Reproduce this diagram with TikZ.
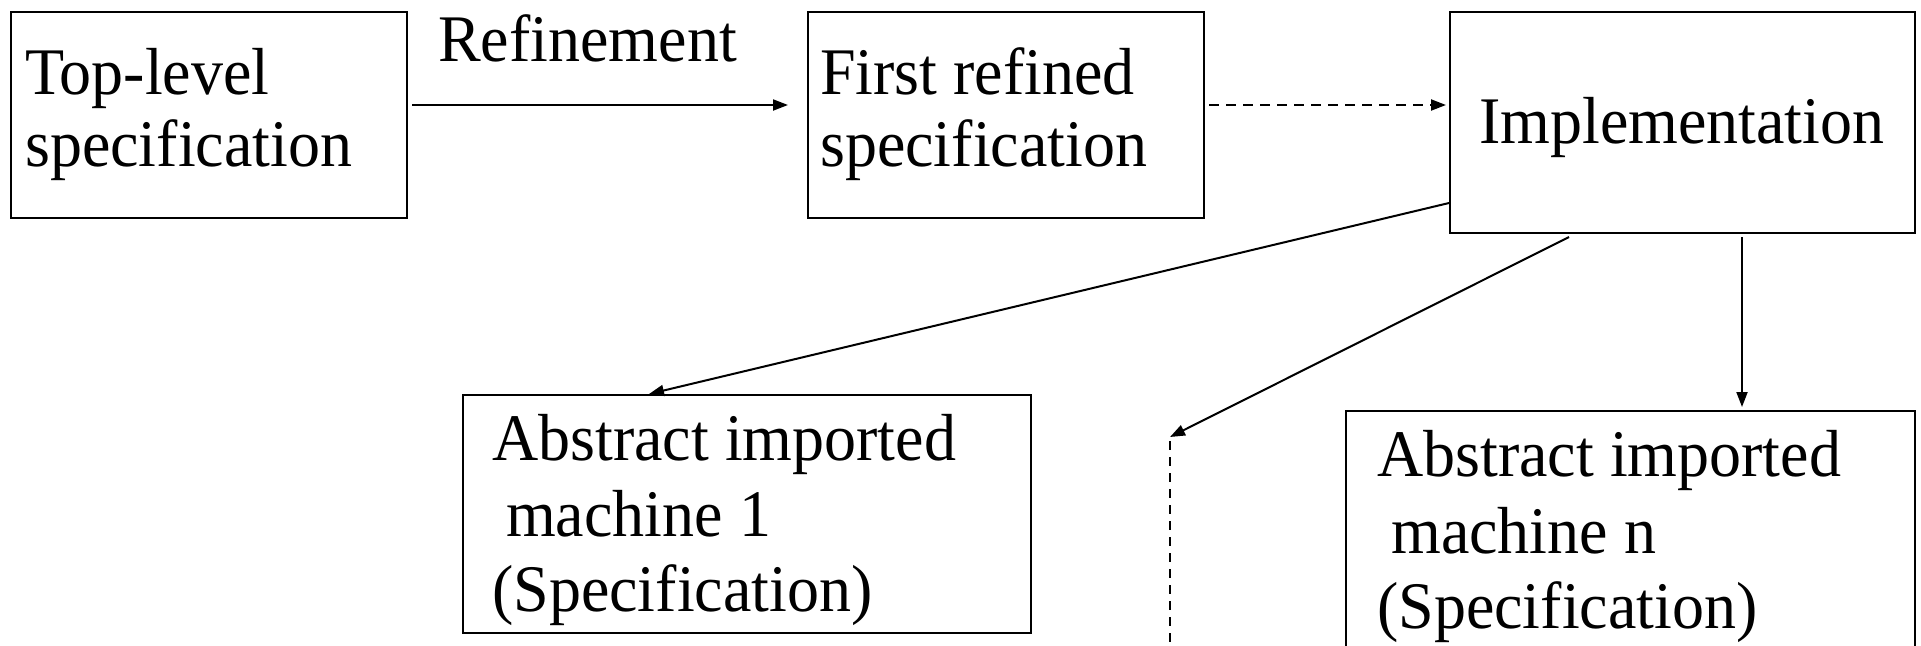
\documentclass[tikz,border=0pt]{standalone}
\usepackage{fontspec}
\setmainfont{Liberation Serif}
\usetikzlibrary{arrows.meta,calc}
\newcommand{\tallt}[1]{\scalebox{1}[1.04]{#1}}
\begin{document}
\begin{tikzpicture}[x=1pt,y=-1pt,
 box/.style={draw,line width=2pt,inner sep=0pt,anchor=north west},
 txt/.style={anchor=base west,inner sep=0pt,font=\fontsize{64}{75}\selectfont},
 arr/.style={line width=2pt,-{Triangle[length=15pt,width=11pt]}},
 dasharr/.style={arr,dash pattern=on 10pt off 7pt},
 thindash/.style={line width=1.5pt,dash pattern=on 9pt off 7pt},
]
\useasboundingbox (0,0) rectangle (1921,645);
\clip (0,0) rectangle (1921,645);
\node[box,minimum width=396pt,minimum height=206pt] (top) at (10,11) {};
\node[box,minimum width=396pt,minimum height=206pt] (first) at (807,11) {};
\node[box,minimum width=465pt,minimum height=221pt] (impl) at (1449,11) {};
\node[box,minimum width=568pt,minimum height=238pt] (am1) at (462,394) {};
\node[box,minimum width=569pt,minimum height=260pt] (amn) at (1345,410) {};

\node[txt] (t1a) at (25,94) {\tallt{Top-level}};
\node[txt] (t1b) at (25,166) {\tallt{specification}};
\node[txt] (ref) at (438,61) {\tallt{Refinement}};
\node[txt] (t2a) at (820,94) {\tallt{First refined}};
\node[txt] (t2b) at (820,166) {\tallt{specification}};
\node[txt] (t3) at (1479,143) {\tallt{Implementation}};
\node[txt] (t4a) at (492,460) {\tallt{Abstract imported}};
\node[txt] (t4b) at (506,536) {\tallt{machine 1}};
\node[txt] (t4c) at (492,611) {\tallt{(Specification)}};
\node[txt] (t5a) at (1377,476) {\tallt{Abstract imported}};
\node[txt] (t5b) at (1391,553) {\tallt{machine n}};
\node[txt] (t5c) at (1377,628) {\tallt{(Specification)}};

\coordinate (dtop) at (1170,441);
\coordinate (dbot) at (1170,660);

\draw[arr] ($(top.north east)+(4,94)$) -- ($(first.north west)+(-19,94)$);
\draw[dasharr] ($(first.north east)+(4,94)$) -- ($(impl.north west)+(-3,94)$);
\draw[arr] ($(impl.north west)+(0,192)$) -- ($(am1.north west)+(187,0)$);
\draw[arr] ($(impl.south west)+(120,3)$) -- ($(dtop)+(0,-4)$);
\draw[arr] ($(impl.south west)+(293,3)$) -- ($(amn.north west)+(397,-3)$);
\draw[thindash] (dtop) -- (dbot);
\end{tikzpicture}
\end{document}
